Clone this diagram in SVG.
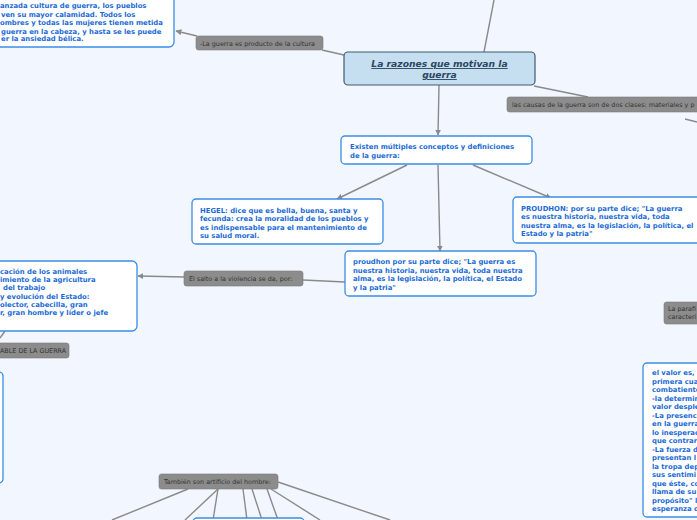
<svg xmlns="http://www.w3.org/2000/svg" width="697" height="520" viewBox="0 0 697 520">
<defs>
<marker id="ah" viewBox="0 0 10 10" refX="9" refY="5" markerWidth="6" markerHeight="6" orient="auto" markerUnits="userSpaceOnUse"><path d="M0,0 L10,5 L0,10 z" fill="#8a8a8a"/></marker>
<style>
.bg{fill:#f2f6fe}
.c{stroke:#8a8a8a;stroke-width:1.4;fill:none}
.n{fill:#ffffff;stroke:#3b8de6;stroke-width:1.3}
.t{font-family:"DejaVu Sans",Verdana,sans-serif;font-weight:bold;font-size:6.85px;fill:#1a6ad6}
.g{fill:#8c8c8c;stroke:#7a7a7a;stroke-width:0.6}
.gt{font-family:"DejaVu Sans",Verdana,sans-serif;font-size:6.4px;fill:#333}
.m{fill:#c5dff0;stroke:#3f5a70;stroke-width:1.2}
.mt{font-family:"DejaVu Sans",Verdana,sans-serif;font-weight:bold;font-style:italic;font-size:9.2px;fill:#2c4760;text-decoration:underline}
</style>
</defs>
<rect class="bg" x="0" y="0" width="697" height="520"/>
<g id="connectors">
<path class="c" d="M484,52 L494,0"/>
<path class="c" d="M344,55 L322,50"/>
<path class="c" d="M197,36 L176,31" marker-end="url(#ah)"/>
<path class="c" d="M534,86 L588,97"/>
<path class="c" d="M685,119 L697,122"/>
<path class="c" d="M439,85 L438,135" marker-end="url(#ah)"/>
<path class="c" d="M407,165 L337,199" marker-end="url(#ah)"/>
<path class="c" d="M438,165 L440,251" marker-end="url(#ah)"/>
<path class="c" d="M473,165 L551,198" marker-end="url(#ah)"/>
<path class="c" d="M345,282 L303,280"/>
<path class="c" d="M184,277 L138,276" marker-end="url(#ah)"/>
<path class="c" d="M5,331 L0,338"/>
<path class="c" d="M188,489 L112,520"/>
<path class="c" d="M218,489 L185,520"/>
<path class="c" d="M218,489 L213,520"/>
<path class="c" d="M243,489 L247,520"/>
<path class="c" d="M252,489 L262,520"/>
<path class="c" d="M267,489 L278,520"/>
<path class="c" d="M271,489 L320,520"/>
<path class="c" d="M278,482 L390,520"/>
</g>
<g id="n-topleft">
<rect class="n" x="-10" y="-10" width="184" height="57" rx="5"/>
<text class="t" x="0" y="8">anzada cultura de guerra, los pueblos</text>
<text class="t" x="1" y="16.5">ven su mayor calamidad. Todos los</text>
<text class="t" x="0" y="25">ombres y todas las mujeres tienen metida</text>
<text class="t" x="1" y="33.5">guerra en la cabeza, y hasta se les puede</text>
<text class="t" x="1" y="41">er la ansiedad bélica.</text>
</g>
<g id="l-cultura">
<rect class="g" x="196" y="36" width="127" height="14" rx="2.5"/>
<text class="gt" x="200" y="45.5">-La guerra es producto de la cultura</text>
</g>
<g id="n-central">
<rect class="m" x="344" y="52" width="191" height="33" rx="4"/>
<text class="mt" x="439.5" y="67" text-anchor="middle">La razones que motivan la </text>
<text class="mt" x="439.5" y="78" text-anchor="middle">guerra</text>
</g>
<g id="l-causas">
<rect class="g" x="507" y="97" width="200" height="15" rx="2.5"/>
<text class="gt" x="512" y="106.5">las causas de la guerra son de dos clases: materiales y p</text>
</g>
<g id="n-existen">
<rect class="n" x="341" y="136" width="191" height="28" rx="4"/>
<text class="t" x="350" y="149">Existen múltiples conceptos y definiciones</text>
<text class="t" x="350" y="157.5">de la guerra:</text>
</g>
<g id="n-hegel">
<rect class="n" x="192" y="199" width="191" height="45" rx="4"/>
<text class="t" x="200" y="212.5">HEGEL: dice que es bella, buena, santa y</text>
<text class="t" x="200" y="221">fecunda: crea la moralidad de los pueblos y</text>
<text class="t" x="200" y="229.5">es indispensable para el mantenimiento de</text>
<text class="t" x="200" y="238">su salud moral.</text>
</g>
<g id="n-proudhon-r">
<rect class="n" x="513" y="197" width="200" height="46" rx="4"/>
<text class="t" x="521" y="210.5">PROUDHON: por su parte dice; "La guerra</text>
<text class="t" x="521" y="219">es nuestra historia, nuestra vida, toda</text>
<text class="t" x="521" y="227.5">nuestra alma, es la legislación, la política, el</text>
<text class="t" x="521" y="236">Estado y la patria"</text>
</g>
<g id="n-proudhon">
<rect class="n" x="345" y="251" width="191" height="45" rx="4"/>
<text class="t" x="353" y="264">proudhon por su parte dice; "La guerra es</text>
<text class="t" x="353" y="272.5">nuestra historia, nuestra vida, toda nuestra</text>
<text class="t" x="353" y="281">alma, es la legislación, la política, el Estado</text>
<text class="t" x="353" y="289.5">y la patria"</text>
</g>
<g id="l-salto">
<rect class="g" x="184" y="271" width="119" height="15" rx="2.5"/>
<text class="gt" x="189" y="280.5">El salto a la violencia se da, por:</text>
</g>
<g id="n-left">
<rect class="n" x="-10" y="261" width="147" height="70" rx="5"/>
<text class="t" x="0" y="274">cación de los animales</text>
<text class="t" x="0" y="282">imiento de la agricultura</text>
<text class="t" x="3" y="290">del trabajo</text>
<text class="t" x="0" y="298.5">y evolución del Estado:</text>
<text class="t" x="0" y="306.5">olector, cabecilla, gran</text>
<text class="t" x="0" y="315">r, gran hombre y líder o jefe</text>
</g>
<g id="l-guerra">
<rect class="g" x="-10" y="343" width="79" height="15" rx="2.5"/>
<text class="gt" x="0" y="352.5">ABLE DE LA GUERRA</text>
</g>
<g id="n-leftbottom">
<rect class="n" x="-20" y="372" width="23" height="111" rx="4"/>
</g>
<g id="l-parafi">
<rect class="g" x="664" y="302" width="50" height="22" rx="2.5"/>
<text class="gt" x="668" y="311">La parafi</text>
<text class="gt" x="668" y="319">caracteri</text>
</g>
<g id="n-valor">
<rect class="n" x="643" y="363" width="70" height="154" rx="4"/>
<text class="t" x="652" y="375">el valor es,</text>
<text class="t" x="652" y="383.5">primera cua</text>
<text class="t" x="652" y="392">combatiente</text>
<text class="t" x="652" y="400.5">-la determin</text>
<text class="t" x="652" y="409">valor desple</text>
<text class="t" x="652" y="417.5">-La presenc</text>
<text class="t" x="652" y="426">en la guerra</text>
<text class="t" x="652" y="434.5">lo inesperad</text>
<text class="t" x="652" y="443">que contrar</text>
<text class="t" x="652" y="451.5">-La fuerza d</text>
<text class="t" x="652" y="460">presentan l</text>
<text class="t" x="652" y="468.5">la tropa dep</text>
<text class="t" x="652" y="477">sus sentimi</text>
<text class="t" x="652" y="485.5">que éste, co</text>
<text class="t" x="652" y="494">llama de su</text>
<text class="t" x="652" y="502.5">propósito" l</text>
<text class="t" x="652" y="511">esperanza d</text>
</g>
<g id="l-tambien">
<rect class="g" x="159" y="474" width="119" height="15" rx="2.5"/>
<text class="gt" x="164" y="483.5">También son artificio del hombre:</text>
</g>
<g id="n-bottom">
<rect class="n" x="193" y="518" width="111" height="20" rx="4"/>
</g>
</svg>
